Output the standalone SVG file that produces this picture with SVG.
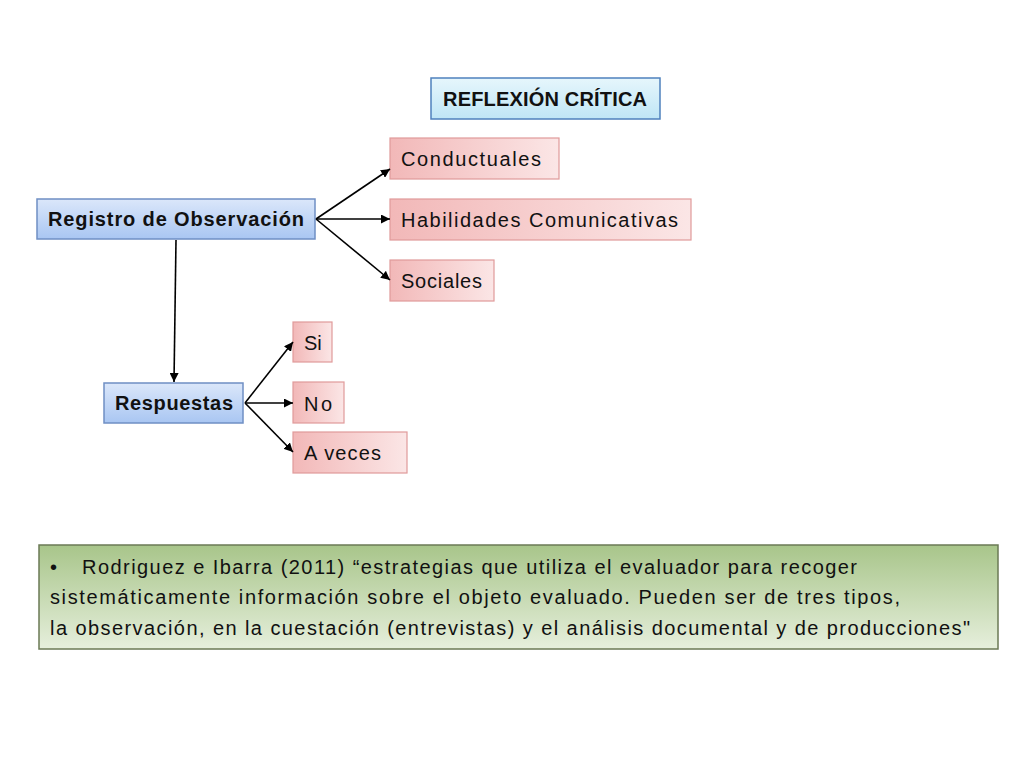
<svg xmlns="http://www.w3.org/2000/svg" width="1024" height="768" viewBox="0 0 1024 768">
<defs>
<linearGradient id="blue" x1="0" y1="0" x2="0" y2="1"><stop offset="0" stop-color="#dbe7fa"/><stop offset="1" stop-color="#a9c6f2"/></linearGradient>
<linearGradient id="cyan" x1="0" y1="0" x2="0" y2="1"><stop offset="0" stop-color="#e6f6fc"/><stop offset="1" stop-color="#bfe6f6"/></linearGradient>
<linearGradient id="pink" x1="0" y1="0" x2="1" y2="0"><stop offset="0" stop-color="#f2b8b8"/><stop offset="1" stop-color="#fbe6e6"/></linearGradient>
<linearGradient id="green" x1="0" y1="0" x2="0" y2="1"><stop offset="0" stop-color="#a8c58a"/><stop offset="1" stop-color="#e6efdc"/></linearGradient>
<marker id="ah" viewBox="0 0 10 10" refX="10" refY="5" markerWidth="9" markerHeight="9" markerUnits="userSpaceOnUse" orient="auto"><path d="M0,0 L10,5 L0,10 z" fill="#000"/></marker>
</defs>
<style>
.b{fill:url(#blue);stroke:#6f8fc4;stroke-width:1.5}
.c{fill:url(#cyan);stroke:#4f81bd;stroke-width:1.5}
.p{fill:url(#pink);stroke:#e09a9a;stroke-width:1.2}
.g{fill:url(#green);stroke:#6b7a55;stroke-width:1.5}
text{font-family:"Liberation Sans",Arial,sans-serif;font-size:20px;fill:#111}
.bold{font-weight:bold}
.cn line{stroke:#000;stroke-width:1.6;marker-end:url(#ah)}
</style>
<rect width="1024" height="768" fill="#fff"/>
<g id="reflexion"><rect class="c" x="431" y="78" width="229" height="41"/><text class="bold" x="545" y="106" text-anchor="middle" textLength="204">REFLEXIÓN CRÍTICA</text></g>
<g id="registro"><rect class="b" x="37" y="199" width="278" height="40"/><text class="bold" x="176" y="226" text-anchor="middle" textLength="256">Registro de Observación</text></g>
<g id="conductuales"><rect class="p" x="390" y="138" width="169" height="41"/><text x="401" y="166" textLength="140">Conductuales</text></g>
<g id="habilidades"><rect class="p" x="390" y="199" width="301" height="41"/><text x="401" y="227" textLength="277">Habilidades Comunicativas</text></g>
<g id="sociales"><rect class="p" x="390" y="260" width="104" height="41"/><text x="401" y="288" textLength="81">Sociales</text></g>
<g id="respuestas"><rect class="b" x="104" y="383" width="139" height="40"/><text class="bold" x="174" y="410" text-anchor="middle" textLength="118">Respuestas</text></g>
<g id="si"><rect class="p" x="293" y="322" width="39" height="40"/><text x="304" y="350">Si</text></g>
<g id="no"><rect class="p" x="293" y="382" width="51" height="41"/><text x="304" y="411" textLength="28">No</text></g>
<g id="aveces"><rect class="p" x="293" y="432" width="114" height="41"/><text x="304" y="460" textLength="77">A veces</text></g>
<g id="cita"><rect class="g" x="39" y="545" width="959" height="104"/>
<text x="50" y="574">•</text>
<text x="82" y="574" textLength="775">Rodriguez e Ibarra (2011) “estrategias que utiliza el evaluador para recoger</text>
<text x="50" y="604" textLength="850">sistemáticamente información sobre el objeto evaluado. Pueden ser de tres tipos,</text>
<text x="50" y="635" textLength="920">la observación, en la cuestación (entrevistas) y el análisis documental y de producciones"</text>
</g>
<g id="connectors" class="cn">
<line x1="316" y1="219" x2="390" y2="169"/>
<line x1="316" y1="219" x2="390" y2="219"/>
<line x1="316" y1="219" x2="390" y2="280"/>
<line x1="176" y1="240" x2="174" y2="382"/>
<line x1="245" y1="403" x2="293" y2="342"/>
<line x1="245" y1="403" x2="293" y2="403"/>
<line x1="245" y1="403" x2="293" y2="452"/>
</g>
</svg>
